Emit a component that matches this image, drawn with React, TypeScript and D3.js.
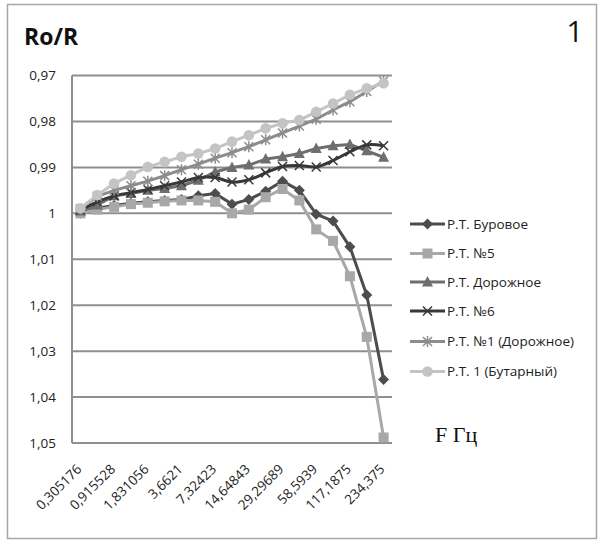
import React from "react";
import * as d3 from "d3";

const categories = [
  "0,305176", "0,61035", "0,915528", "1,2207", "1,831056", "2,4414", "3,6621", "4,8828",
  "7,32423", "9,7656", "14,64843", "19,5312", "29,29689", "39,0625", "58,5939", "78,125",
  "117,1875", "156,25", "234,375",
];
const tickLabelEvery = 2;
const yTicks = [0.97, 0.98, 0.99, 1.0, 1.01, 1.02, 1.03, 1.04, 1.05];

const burovoe = [1.0, 0.9989, 0.9983, 0.9978, 0.9975, 0.9972, 0.997, 0.9962, 0.9957, 0.998, 0.997, 0.9952, 0.993, 0.995, 1.0002, 1.0017, 1.0073, 1.0178, 1.0362];
const n5 = [1.0, 0.9992, 0.9986, 0.998, 0.9977, 0.9974, 0.9972, 0.9972, 0.9975, 1.0, 0.9992, 0.9965, 0.9947, 0.9972, 1.0035, 1.006, 1.0137, 1.0269, 1.0488];
const dorozhnoe = [0.9995, 0.9982, 0.9962, 0.9957, 0.995, 0.9946, 0.994, 0.9928, 0.991, 0.99, 0.9895, 0.9882, 0.9877, 0.987, 0.9859, 0.9853, 0.985, 0.9864, 0.9878];
const n6 = [0.9993, 0.9975, 0.9962, 0.9955, 0.9948, 0.994, 0.9932, 0.9922, 0.9922, 0.9932, 0.9927, 0.9912, 0.9898, 0.9896, 0.9899, 0.9885, 0.9866, 0.9851, 0.9853];
const n1dor = [0.999, 0.9963, 0.995, 0.994, 0.993, 0.9918, 0.9905, 0.9893, 0.988, 0.9868, 0.9855, 0.984, 0.9825, 0.981, 0.9795, 0.9775, 0.9757, 0.9735, 0.9712];
const butarny = [0.9989, 0.996, 0.9935, 0.9917, 0.9899, 0.9888, 0.9877, 0.987, 0.9859, 0.9844, 0.983, 0.9815, 0.9804, 0.9797, 0.9779, 0.9761, 0.9742, 0.9728, 0.9717];

const seriesNames = ["Р.Т. Буровое", "Р.Т. №5", "Р.Т. Дорожное", "Р.Т. №6", "Р.Т. №1  (Дорожное)", "Р.Т. 1 (Бутарный)"];

type Marker = "diamond" | "square" | "triangle" | "x" | "star" | "circle";
const seriesList: { name: string; values: number[]; color: string; marker: Marker; smooth: boolean }[] = [
  { name: seriesNames[0], values: burovoe, color: "#4d4d4d", marker: "diamond", smooth: false },
  { name: seriesNames[1], values: n5, color: "#a8a8a8", marker: "square", smooth: false },
  { name: seriesNames[2], values: dorozhnoe, color: "#6e6e6e", marker: "triangle", smooth: false },
  { name: seriesNames[3], values: n6, color: "#383838", marker: "x", smooth: true },
  { name: seriesNames[4], values: n1dor, color: "#8c8c8c", marker: "star", smooth: false },
  { name: seriesNames[5], values: butarny, color: "#c4c4c4", marker: "circle", smooth: false },
];

const W = 599, H = 541;
const plot = { left: 72, right: 392, top: 75.5, bottom: 443 };

function MarkerShape({ type, x, y, color }: { type: Marker; x: number; y: number; color: string }) {
  switch (type) {
    case "diamond":
      return <path d={`M${x},${y - 5.5}L${x + 5.5},${y}L${x},${y + 5.5}L${x - 5.5},${y}Z`} fill={color} />;
    case "square":
      return <rect x={x - 5} y={y - 5} width={10} height={10} fill={color} />;
    case "triangle":
      return <path d={`M${x},${y - 6}L${x + 5.5},${y + 4.5}L${x - 5.5},${y + 4.5}Z`} fill={color} />;
    case "x":
      return (
        <path d={`M${x - 4.5},${y - 4.5}L${x + 4.5},${y + 4.5}M${x - 4.5},${y + 4.5}L${x + 4.5},${y - 4.5}`} stroke={color} strokeWidth={1.5} fill="none" />
      );
    case "star":
      return (
        <path
          d={`M${x - 4.5},${y - 4.5}L${x + 4.5},${y + 4.5}M${x - 4.5},${y + 4.5}L${x + 4.5},${y - 4.5}M${x},${y - 5.5}L${x},${y + 5.5}`}
          stroke={color}
          strokeWidth={1.5}
          fill="none"
        />
      );
    case "circle":
      return <circle cx={x} cy={y} r={5.3} fill={color} />;
  }
}

export default function App() {
  const x = d3
    .scaleBand<string>()
    .domain(categories)
    .range([plot.left, plot.right]);
  const cx = (c: string) => (x(c) as number) + x.bandwidth() / 2;
  const y = d3.scaleLinear().domain([0.97, 1.05]).range([plot.top, plot.bottom]);
  const fmt = (v: number) => {
    const s = d3.format(".2~f")(v);
    return s.replace(".", ",");
  };

  const legendX = 410;
  const legendY = [224, 253.5, 282, 311, 341.5, 371.5];

  return (
    <svg width={W} height={H} style={{ position: "absolute", left: 0, top: 0, background: "#fff" }} fontFamily="'Open Sans', 'Noto Sans', sans-serif">
      <rect x={7.5} y={4.5} width={589} height={534} fill="#fff" stroke="#a6a6a6" strokeWidth={1.5} />
      <text x={24} y={45} fontSize={23} fontWeight="bold" fill="#111">Ro/R</text>
      <text x={583} y={42} fontSize={29} textAnchor="end" fill="#111">1</text>

      {yTicks.map((t) => (
        <g key={t}>
          <line x1={plot.left} x2={plot.right} y1={y(t)} y2={y(t)} stroke="#8f8f8f" strokeWidth={2} />
          <text x={56} y={y(t)} dy="0.35em" fontSize={13.5} textAnchor="end" fill="#222">{fmt(t)}</text>
        </g>
      ))}
      <line x1={plot.left} x2={plot.left} y1={plot.top} y2={plot.bottom} stroke="#8f8f8f" strokeWidth={2} />

      {categories.map((c, i) =>
        i % tickLabelEvery === 0 ? (
          <text
            key={c}
            transform={`translate(${cx(c) + 2},${plot.bottom + 27}) rotate(-45)`}
            fontSize={13.5}
            textAnchor="end"
            fill="#222"
          >
            {c}
          </text>
        ) : null
      )}

      {seriesList.map((s) => {
        const line = d3
          .line<number>()
          .x((_, i) => cx(categories[i]))
          .y((v) => y(v))
          .curve(s.smooth ? d3.curveCatmullRom.alpha(0.5) : d3.curveLinear);
        return (
          <g key={s.name}>
            <path d={line(s.values) || ""} fill="none" stroke={s.color} strokeWidth={3} strokeLinejoin="round" />
            {s.values.map((v, i) => (
              <MarkerShape key={i} type={s.marker} x={cx(categories[i])} y={y(v)} color={s.color} />
            ))}
          </g>
        );
      })}

      {seriesList.map((s, i) => (
        <g key={s.name}>
          <line x1={legendX} x2={legendX + 35} y1={legendY[i]} y2={legendY[i]} stroke={s.color} strokeWidth={3} />
          <MarkerShape type={s.marker} x={legendX + 17.5} y={legendY[i]} color={s.color} />
          <text x={legendX + 37} y={legendY[i]} dy="0.35em" fontSize={13.5} fill="#222">{s.name}</text>
        </g>
      ))}

      <text x={435} y={442} fontSize={22} fontFamily="'Liberation Serif', 'DejaVu Serif', serif" fill="#111">F Гц</text>
    </svg>
  );
}
